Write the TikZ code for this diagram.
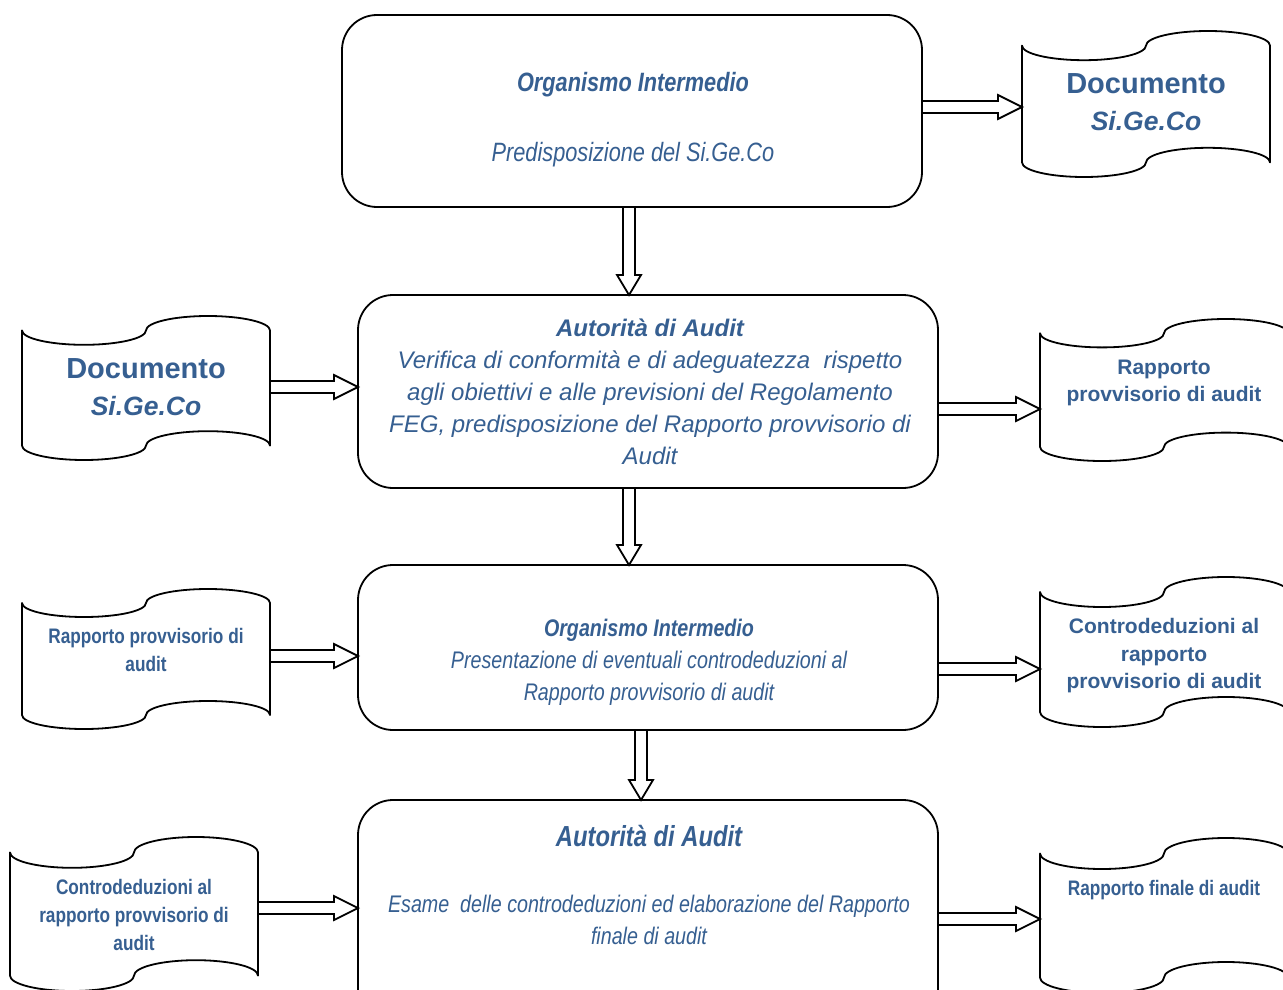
\documentclass[tikz,border=0pt]{standalone}
\usepackage{fontspec}
\setmainfont{Liberation Sans}
\newfontfamily\narrowfont[FakeStretch=0.82]{Liberation Sans}
\usetikzlibrary{calc}
\definecolor{txtblue}{RGB}{54,95,145}
\tikzset{
  x=1pt, y=1pt,
  mainbox/.style={draw=black, line width=1.8pt, rounded corners=35pt, minimum width=580pt, inner sep=0pt, outer sep=0pt},
  docframe/.style={draw=none, inner sep=0pt, outer sep=0pt, minimum width=248pt},
  docline/.style={draw=black, line width=1.8pt, line join=round},
  blockarrow/.style={draw=black, line width=1.8pt, line join=miter},
  lbl/.style={text=txtblue, align=center, inner sep=0pt, outer sep=0pt},
}
\newcommand\docwave[1]{%
  \draw[docline] let \p1=(#1.south west), \p2=(#1.north east),
      \n1={(\x2-\x1)/4}, \n2={(\y2-\y1)/10} in
    (\x1,\y2-\n2) arc[start angle=180, end angle=360, x radius=\n1, y radius=\n2]
    arc[start angle=180, end angle=0, x radius=\n1, y radius=\n2]
    -- (\x2,\y1+\n2)
    arc[start angle=0, end angle=180, x radius=\n1, y radius=\n2]
    arc[start angle=360, end angle=180, x radius=\n1, y radius=\n2]
    -- cycle;}
\newcommand\harrow[2]{%
  \draw[blockarrow] let \p1=#1, \p2=#2 in
    (\x1,\y2+6pt) -- (\x2-24pt,\y2+6pt) -- (\x2-24pt,\y2+12pt) -- (\x2,\y2)
    -- (\x2-24pt,\y2-12pt) -- (\x2-24pt,\y2-6pt) -- (\x1,\y2-6pt);}
\newcommand\varrow[2]{%
  \draw[blockarrow] let \p1=#1, \p2=#2 in
    (\x2-6pt,\y1) -- (\x2-6pt,\y2+20pt) -- (\x2-12pt,\y2+20pt) -- (\x2,\y2)
    -- (\x2+12pt,\y2+20pt) -- (\x2+6pt,\y2+20pt) -- (\x2+6pt,\y1);}
\begin{document}
\begin{tikzpicture}
\useasboundingbox (0,0) rectangle (1283,-990);
\clip (0,0) rectangle (1283,-990);
\fill[white] (0,0) rectangle (1283,-990);

% main boxes
\node[mainbox, minimum height=192pt] (b1) at (632,-111) {};
\node[mainbox, minimum height=193pt] (b2) at (648,-391.5) {};
\node[mainbox, minimum height=165pt] (b3) at (648,-647.5) {};
\node[mainbox, minimum height=230pt] (b4) at (648,-915) {};

% documents
\node[docframe, minimum height=146pt] (d1)  at (1146,-104) {};
\node[docframe, minimum height=144pt] (d2l) at (146,-388) {};
\node[docframe, minimum height=142pt] (d2r) at (1164,-390) {};
\node[docframe, minimum height=140pt] (d3l) at (146,-659) {};
\node[docframe, minimum height=150pt] (d3r) at (1164,-652) {};
\node[docframe, minimum height=154pt] (d4l) at (134,-914) {};
\node[docframe, minimum height=155pt] (d4r) at (1164,-915.5) {};
\docwave{d1}\docwave{d2l}\docwave{d2r}\docwave{d3l}\docwave{d3r}\docwave{d4l}\docwave{d4r}

% arrow guide coordinates
\coordinate (v1x) at (629,0);
\coordinate (v2x) at (629,0);
\coordinate (v3x) at (641,0);
\coordinate (h1y) at (0,-107);
\coordinate (h2ly) at (0,-387);
\coordinate (h2ry) at (0,-409);
\coordinate (h3ly) at (0,-656);
\coordinate (h3ry) at (0,-669);
\coordinate (h4ly) at (0,-908);
\coordinate (h4ry) at (0,-919);

\varrow{(b1.south -| v1x)}{(b2.north -| v1x)}
\varrow{(b2.south -| v2x)}{(b3.north -| v2x)}
\varrow{(b3.south -| v3x)}{(b4.north -| v3x)}
\harrow{(b1.east |- h1y)}{(d1.west |- h1y)}
\harrow{(d2l.east |- h2ly)}{(b2.west |- h2ly)}
\harrow{(b2.east |- h2ry)}{(d2r.west |- h2ry)}
\harrow{(d3l.east |- h3ly)}{(b3.west |- h3ly)}
\harrow{(b3.east |- h3ry)}{(d3r.west |- h3ry)}
\harrow{(d4l.east |- h4ly)}{(b4.west |- h4ly)}
\harrow{(b4.east |- h4ry)}{(d4r.west |- h4ry)}

% box texts
\node[lbl, font=\narrowfont\bfseries\itshape\fontsize{26.5}{32}\selectfont] (t1a) at (633,-85) {Organismo Intermedio};
\node[lbl, font=\narrowfont\itshape\fontsize{26.5}{32}\selectfont] (t1b) at (633,-155) {Predisposizione del Si.Ge.Co};
\node[lbl, font=\itshape\fontsize{24}{32}\selectfont] (t2) at (650,-391.5)
  {\textbf{Autorità di Audit}\\Verifica di conformità e di adeguatezza~ rispetto\\agli obiettivi e alle previsioni del Regolamento\\FEG, predisposizione del Rapporto provvisorio di\\Audit};
\node[lbl, font=\narrowfont\itshape\fontsize{24}{32}\selectfont] (t3) at (649,-662)
  {\textbf{Organismo Intermedio}\\Presentazione di eventuali controdeduzioni al\\Rapporto provvisorio di audit};
\node[lbl, font=\narrowfont\bfseries\itshape\fontsize{29}{34}\selectfont] (t4a) at (649,-836) {Autorità di Audit};
\node[lbl, font=\narrowfont\itshape\fontsize{24}{32}\selectfont] (t4b) at (649,-920)
  {Esame~ delle controdeduzioni ed elaborazione del Rapporto\\finale di audit};

% document texts
\node[lbl, font=\bfseries\fontsize{29}{37}\selectfont] (td1) at (1146,-102.5) {Documento\\\textit{\fontsize{26.5}{37}\selectfont Si.Ge.Co}};
\node[lbl, font=\bfseries\fontsize{29}{37}\selectfont] (td2l) at (146,-387.5) {Documento\\\textit{\fontsize{26.5}{37}\selectfont Si.Ge.Co}};
\node[lbl, font=\bfseries\fontsize{21}{27}\selectfont] (td2r) at (1164,-383) {Rapporto\\provvisorio di audit};
\node[lbl, font=\narrowfont\bfseries\fontsize{21}{28}\selectfont] (td3l) at (146,-650) {Rapporto provvisorio di\\audit};
\node[lbl, font=\bfseries\fontsize{21}{27.5}\selectfont] (td3r) at (1164,-656) {Controdeduzioni al\\rapporto\\provvisorio di audit};
\node[lbl, font=\narrowfont\bfseries\fontsize{21}{28}\selectfont] (td4l) at (134,-915) {Controdeduzioni al\\rapporto provvisorio di\\audit};
\node[lbl, font=\narrowfont\bfseries\fontsize{21}{28}\selectfont] (td4r) at (1164,-890) {Rapporto finale di audit};
\end{tikzpicture}
\end{document}
